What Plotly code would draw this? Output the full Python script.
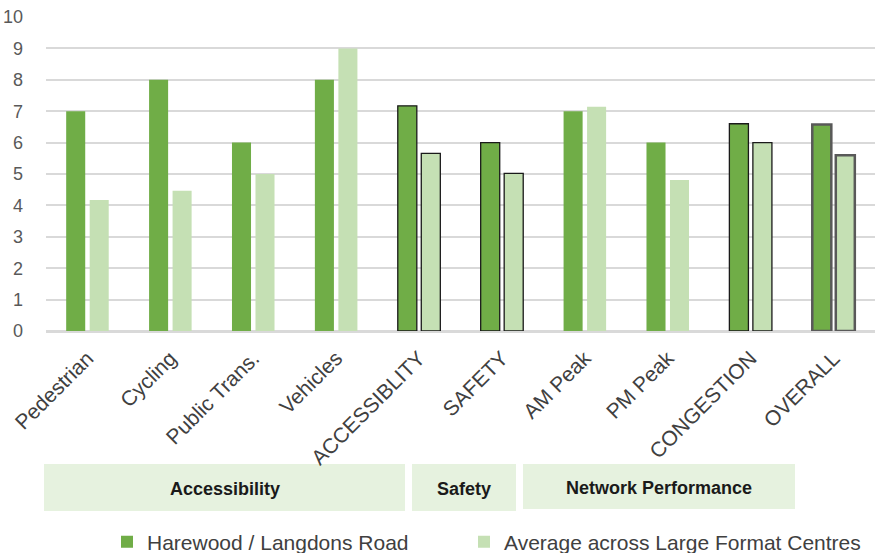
import plotly.graph_objects as go

categories = ["Pedestrian", "Cycling", "Public Trans.", "Vehicles", "ACCESSIBLITY",
              "SAFETY", "AM Peak", "PM Peak", "CONGESTION", "OVERALL"]
harewood = [7.0, 8.0, 6.0, 8.0, 7.17, 6.0, 7.0, 6.0, 6.6, 6.58]
average = [4.17, 4.47, 5.0, 9.0, 5.66, 5.02, 7.14, 4.81, 6.0, 5.6]
series_names = ["Harewood / Langdons Road", "Average across Large Format Centres"]
group_labels = ["Accessibility", "Safety", "Network Performance"]
y_ticks = list(range(0, 11))

# outline styling per category (summary bars outlined)
line_colors = ["rgba(0,0,0,0)"] * 4 + ["#1a1a1a", "#1a1a1a", "rgba(0,0,0,0)", "rgba(0,0,0,0)", "#1a1a1a", "#595959"]
line_widths = [0, 0, 0, 0, 1.3, 1.3, 0, 0, 1.3, 2.5]

DARK = "#70ad47"
LIGHT = "#c5e0b4"
FONT = "Liberation Sans, Arial, sans-serif"

fig = go.Figure()
fig.add_trace(go.Bar(x=categories, y=harewood, name=series_names[0], legend="legend",
                     marker=dict(color=DARK, line=dict(color=line_colors, width=line_widths))))
fig.add_trace(go.Bar(x=categories, y=average, name=series_names[1], legend="legend2",
                     marker=dict(color=LIGHT, line=dict(color=line_colors, width=line_widths))))

W, H = 891, 553
L, R, T, B = 46, 16, 17, 222
pw, ph = W - L - R, H - T - B


def px_x(px):
    return (px - L) / pw


def px_y(py):
    return (H - B - py) / ph


boxes = [(44, 405, 464, 511), (412, 516, 464, 511), (523, 795, 464, 509)]
shapes = []
annotations = []
for (x0, x1, y0, y1), label in zip(boxes, group_labels):
    shapes.append(dict(type="rect", xref="paper", yref="paper",
                       x0=px_x(x0), x1=px_x(x1), y0=px_y(y1), y1=px_y(y0),
                       fillcolor="#e6f2df", line=dict(width=0), layer="below"))
    annotations.append(dict(xref="paper", yref="paper", x=px_x((x0 + x1) / 2),
                            y=px_y((y0 + y1) / 2 + 1), text="<b>%s</b>" % label,
                            showarrow=False, xanchor="center", yanchor="middle",
                            font=dict(family=FONT, size=18, color="#1a1a1a")))

legend_common = dict(orientation="h", xanchor="left", yanchor="middle",
                     font=dict(family=FONT, size=21, color="#404040"),
                     bgcolor="rgba(0,0,0,0)")

fig.update_layout(
    width=W, height=H,
    margin=dict(l=L, r=R, t=T, b=B, autoexpand=False),
    paper_bgcolor="white", plot_bgcolor="white",
    barmode="group", bargap=0.433, bargroupgap=0.19,
    font=dict(family=FONT),
    showlegend=True,
    legend=dict(x=px_x(107), y=px_y(542), **legend_common),
    legend2=dict(x=px_x(464), y=px_y(542), **legend_common),
    shapes=shapes,
    annotations=annotations,
    xaxis=dict(tickangle=-45, tickfont=dict(family=FONT, size=21, color="#404040"),
               showline=True, linecolor="#d9d9d9", linewidth=1.5, ticks="",
               automargin=False, showgrid=False, ticklabelstandoff=5),
    yaxis=dict(range=[0, 10], tickvals=y_ticks, ticks="", showline=False,
               gridcolor="#d9d9d9", gridwidth=1.5, zeroline=True, zerolinecolor="#d9d9d9",
               zerolinewidth=1.5, tickfont=dict(family=FONT, size=18, color="#595959"),
               automargin=False, ticklabelstandoff=22),
)

fig.write_html("out.html", config={"displayModeBar": False},
               post_script="document.body.style.margin='0px';document.body.style.padding='0px';")
